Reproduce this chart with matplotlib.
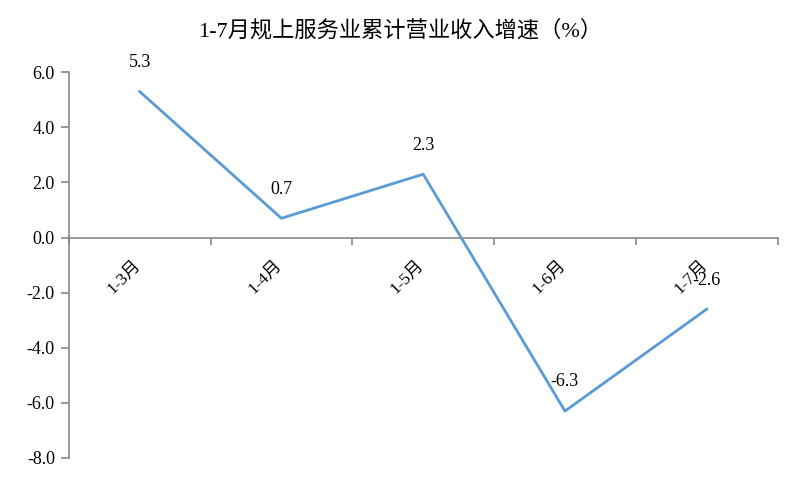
import matplotlib
matplotlib.use("Agg")
import matplotlib.pyplot as plt

plt.rcParams['font.family'] = ['Liberation Serif', 'Noto Sans CJK SC', 'DejaVu Sans']
plt.rcParams['axes.unicode_minus'] = False

# 数据
categories = ["1-3月", "1-4月", "1-5月", "1-6月", "1-7月"]
values = [5.3, 0.7, 2.3, -6.3, -2.6]
y_ticks = [6.0, 4.0, 2.0, 0.0, -2.0, -4.0, -6.0, -8.0]

fig = plt.figure(figsize=(8, 4.82), dpi=100)
ax = fig.add_axes([0.086, 0.05, 0.886, 0.8])

x = list(range(len(categories)))
ax.plot(x, values, color="#5B9BD5", linewidth=2)

for xi, v in zip(x, values):
    ax.annotate(f"{v:.1f}", (xi, v), xytext=(0, 21), textcoords="offset points",
                ha="center", va="center", fontsize=13, color="#000000")

ax.set_xlim(-0.5, len(categories) - 0.5)
ax.set_ylim(-8, 6)
ax.set_yticks(y_ticks)
ax.set_yticklabels([f"{t:.1f}" for t in y_ticks], fontsize=13)

# x轴放在0处
for s in ["top", "right"]:
    ax.spines[s].set_visible(False)
ax.spines["bottom"].set_position(("data", 0))
ax.spines["left"].set_bounds(-8, 6)
ax.spines["left"].set_color("#898989")
ax.spines["bottom"].set_color("#898989")
ax.spines["left"].set_linewidth(1.2)
ax.spines["bottom"].set_linewidth(1.2)

ax.set_xticks([i - 0.5 for i in range(len(categories) + 1)])
ax.set_xticklabels([])
ax.tick_params(axis="x", direction="out", length=5, color="#898989", width=1.2)
ax.tick_params(axis="y", direction="out", length=6, color="#898989", width=1.2, pad=4)

for xi, c in zip(x, categories):
    ax.annotate(c, (xi, 0), xytext=(-1, -18), textcoords="offset points",
                ha="right", va="center", rotation=45, rotation_mode="anchor",
                fontsize=12.5, color="#000000")

fig.text(0.5, 0.937, "1-7月规上服务业累计营业收入增速（%）", ha="center", va="center",
         fontsize=16)

fig.savefig("out.png", dpi=100)
